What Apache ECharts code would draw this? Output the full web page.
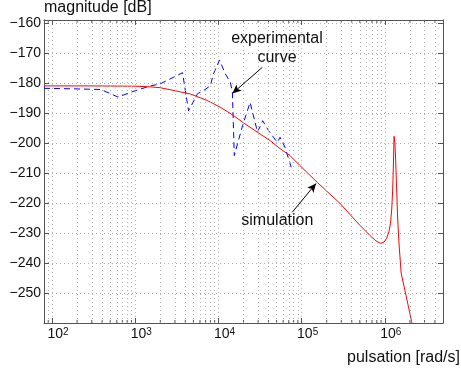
<!DOCTYPE html>
<html><head><meta charset="utf-8">
<script src="https://cdn.jsdelivr.net/npm/echarts@6/dist/echarts.min.js"></script>
<style>html,body{margin:0;padding:0;background:#fff}#c{width:461px;height:369px}</style>
</head><body><div id="c"></div>
<script>
// ---- data ----
var simX = [80, 300, 1000, 1500, 2000, 3000, 4600, 7400, 10500, 14700, 20000, 30000, 41700, 55000, 72400, 95000, 155000, 220000, 288000, 380000, 500000, 660000, 780000, 890000, 980000, 1050000, 1120000, 1170000, 1210000, 1240000, 1260000, 1275000, 1290000, 1320000, 1350000, 1380000, 1420000, 1470000, 1570000, 1800000, 2100000, 2200000];
var simY = [-181, -181, -181.1, -181.3, -181.6, -182.6, -183.7, -185.9, -188.1, -190.6, -193.3, -196.6, -199.2, -201.9, -204.2, -207.5, -213.2, -217.1, -220.1, -223.8, -227.4, -230.8, -232.6, -233.5, -233.0, -231.8, -229.5, -226.8, -222, -216, -210, -204, -197.8, -200, -206, -214, -224, -232.4, -243.4, -250.9, -259.6, -262];
var expX = [80, 200, 386, 620, 1000, 1530, 2000, 3700, 4370, 5600, 6600, 8000, 8700, 10300, 12100, 13900, 14700, 15500, 19500, 24000, 29500, 34000, 40000, 51000, 55000, 63000, 77000];
var expY = [-181.8, -182, -182.2, -184.7, -182.6, -181.0, -180.3, -176.6, -189.3, -183.6, -182.6, -180.9, -177, -172.4, -177, -179.8, -183, -204.2, -194.2, -186.5, -196.4, -192.6, -195.9, -199.8, -198.1, -201.4, -209.2];
var yTicks = [-160, -170, -180, -190, -200, -210, -220, -230, -240, -250];
var xDecades = [2, 3, 4, 5, 6];
var xLabel = 'pulsation [rad/s]';
var yLabel = 'magnitude [dB]';
// annotations: [text, x, y] and arrows [[x0,y0],[x1,y1]] in data units
var noteExp = ['experimental\ncurve', 50500, -168.5];
var arrowExp = [[33700, -174.8], [14700, -183.5]];
var noteSim = ['simulation', 51000, -225.8];
var arrowSim = [[77000, -223.1], [149000, -213.5]];

var X_MIN = 80, X_MAX = 5e6, Y_MIN = -260, Y_MAX = -159;
var FONT = '"Liberation Sans", Arial, sans-serif';
var MINUS = '\u2212';

function zip(a, b) { return a.map(function (v, i) { return [v, b[i]]; }); }

// minor gridline values 2..9 x decade
var minorVals = [];
for (var d = 1; d <= 6; d++) for (var m = 2; m <= 9; m++) {
  var v = m * Math.pow(10, d);
  if (v > X_MIN && v < X_MAX) minorVals.push(v);
}

var chart = echarts.init(document.getElementById('c'), null, {renderer: 'canvas'});
var axisLineCol = '#555';
var gridStyle = {color: '#b0b0b0', type: [1, 3], width: 1};

var option = {
  animation: false,
  backgroundColor: '#fff',
  textStyle: {fontFamily: FONT},
  grid: {left: 44, top: 19, right: 18, bottom: 46, containLabel: false},
  xAxis: [{
    type: 'log', logBase: 10, min: X_MIN, max: X_MAX,
    axisLine: {show: true, lineStyle: {color: axisLineCol, width: 1}},
    axisTick: {show: true, inside: true, length: 5, lineStyle: {color: axisLineCol}},
    splitLine: {show: true, lineStyle: gridStyle},
    axisLabel: {
      show: true, margin: 4, showMinLabel: false, showMaxLabel: false,
      formatter: function (v) {
        var e = Math.round(Math.log10(v));
        if (xDecades.indexOf(e) < 0 || Math.abs(Math.pow(10, e) - v) / v > 1e-6) return '';
        return '{b|10}{s|' + e + '}';
      },
      rich: {
        b: {fontSize: 14, fontFamily: FONT, color: '#111', lineHeight: 14, verticalAlign: 'bottom', padding: [0, 0, 0, 12]},
        s: {fontSize: 10, fontFamily: FONT, color: '#111', lineHeight: 12, verticalAlign: 'top', padding: [0, 0, 8, 0]}
      }
    }
  }, {
    type: 'log', logBase: 10, min: X_MIN, max: X_MAX, position: 'top',
    axisLine: {show: true, lineStyle: {color: axisLineCol, width: 1}},
    axisTick: {show: true, inside: true, length: 5, lineStyle: {color: axisLineCol}},
    splitLine: {show: false}, axisLabel: {show: false}
  }],
  yAxis: [{
    type: 'value', min: Y_MIN, max: Y_MAX, interval: 10,
    name: yLabel, nameLocation: 'end', nameGap: 10,
    nameTextStyle: {fontSize: 16, fontFamily: FONT, color: '#111', align: 'left', verticalAlign: 'middle'},
    axisLine: {show: true, lineStyle: {color: axisLineCol, width: 1}},
    axisTick: {show: true, inside: true, length: 5, lineStyle: {color: axisLineCol}},
    splitLine: {show: true, lineStyle: gridStyle},
    axisLabel: {
      show: true, margin: 3, fontSize: 14, fontFamily: FONT, color: '#111',
      showMinLabel: false, showMaxLabel: false,
      formatter: function (v) {
        if (yTicks.indexOf(v) < 0) return '';
        return (v < 0 ? MINUS : '') + Math.abs(v);
      }
    }
  }, {
    type: 'value', min: Y_MIN, max: Y_MAX, interval: 10, position: 'right',
    axisLine: {show: true, lineStyle: {color: axisLineCol, width: 1}},
    axisTick: {show: true, inside: true, length: 5, lineStyle: {color: axisLineCol}},
    splitLine: {show: false}, axisLabel: {show: false}
  }],
  series: [{
    name: 'grid', type: 'line', data: [], silent: true,
    markLine: {
      silent: true, symbol: 'none', animation: false,
      label: {show: false},
      lineStyle: gridStyle,
      emphasis: {disabled: true},
      data: minorVals.map(function (v) { return {xAxis: v}; })
    }
  }, {
    name: 'experimental', type: 'line', data: zip(expX, expY),
    showSymbol: false, symbol: 'none', clip: true,
    lineStyle: {color: '#0000ff', width: 1, type: [6, 4]}, z: 3
  }, {
    name: 'simulation', type: 'line', data: zip(simX, simY),
    showSymbol: false, symbol: 'none', clip: true,
    lineStyle: {color: '#ff0000', width: 1}, z: 4,
    markLine: {
      silent: true, animation: false,
      symbol: ['none', 'arrow'], symbolSize: [6, 9],
      label: {show: false},
      lineStyle: {color: '#000', width: 1, type: 'solid'},
      emphasis: {disabled: true},
      data: [
        [{coord: arrowExp[0]}, {coord: arrowExp[1]}],
        [{coord: arrowSim[0]}, {coord: arrowSim[1]}]
      ]
    },
    markPoint: {
      silent: true, animation: false, symbol: 'circle', symbolSize: 0,
      label: {show: true, position: 'inside', fontSize: 16, fontFamily: FONT, color: '#111', lineHeight: 19, align: 'center'},
      data: [
        {coord: [noteExp[1], noteExp[2]], value: noteExp[0], label: {formatter: noteExp[0]}},
        {coord: [noteSim[1], noteSim[2]], value: noteSim[0], label: {formatter: noteSim[0]}}
      ]
    }
  }],
  graphic: [{
    type: 'text', right: 1, top: 350,
    style: {text: xLabel, font: '16px ' + FONT, fill: '#111'}
  }]
};
chart.setOption(option);

// minor ticks (bottom and top), positioned via the axis scale
var rect = chart.getModel().getComponent('grid').coordinateSystem.getRect();
var ticks = [];
minorVals.forEach(function (v) {
  var px = chart.convertToPixel({xAxisIndex: 0}, v);
  ticks.push({type: 'line', silent: true, shape: {x1: px, y1: rect.y + rect.height, x2: px, y2: rect.y + rect.height - 3}, style: {stroke: axisLineCol, lineWidth: 1}});
  ticks.push({type: 'line', silent: true, shape: {x1: px, y1: rect.y, x2: px, y2: rect.y + 3}, style: {stroke: axisLineCol, lineWidth: 1}});
});
chart.setOption({graphic: option.graphic.concat(ticks)});
</script></body></html>
